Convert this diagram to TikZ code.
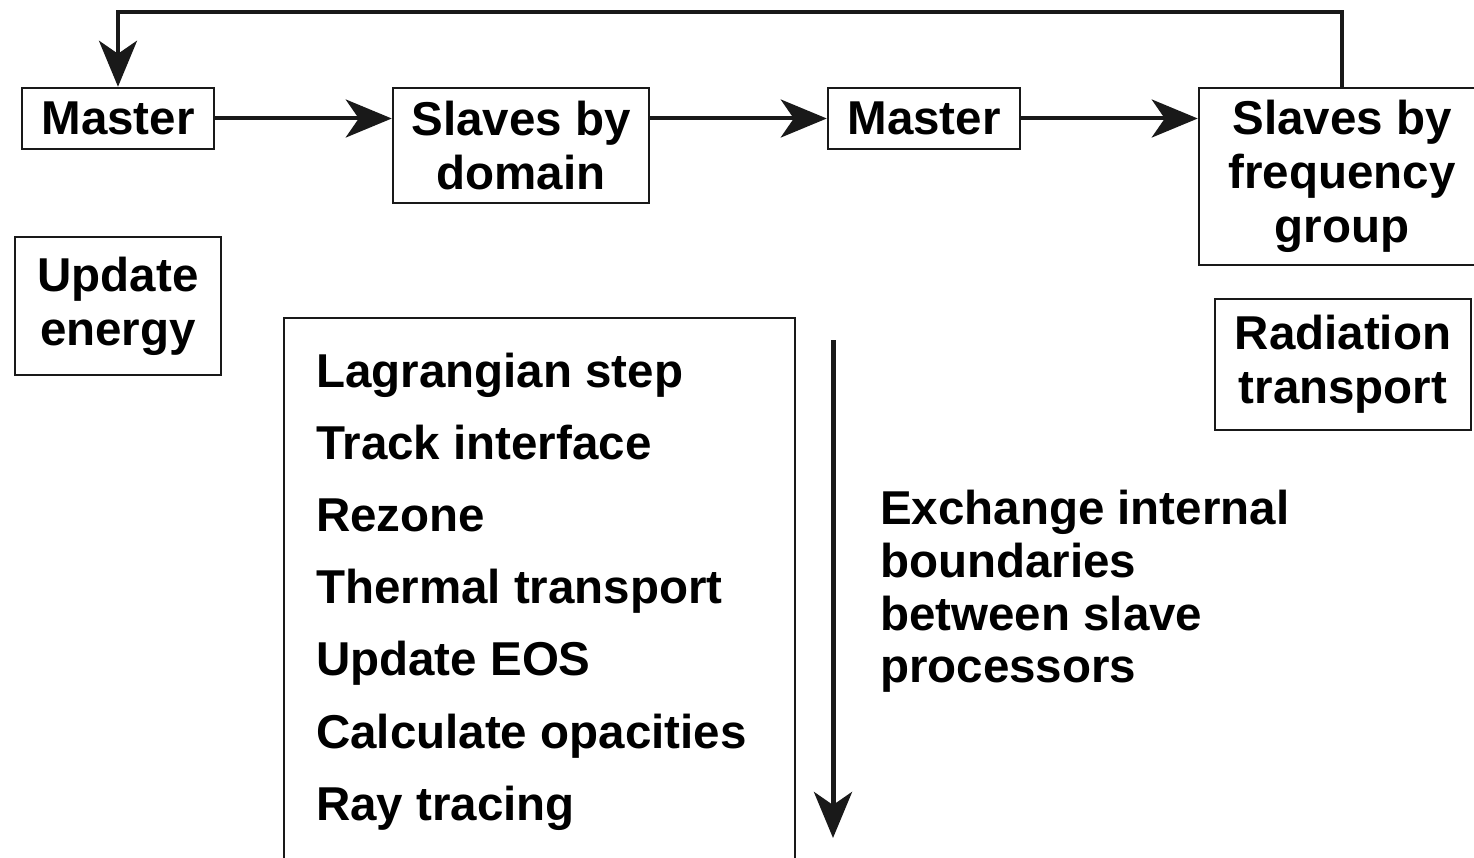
\documentclass[tikz,border=0pt]{standalone}
\usepackage{fontspec}
\setmainfont{Liberation Sans}
\usepackage{tikz}
\usetikzlibrary{arrows.meta, positioning, calc}

\begin{document}
\begin{tikzpicture}[x=1pt, y=-1pt]
    % Define styles
    \tikzstyle{box} = [rectangle, draw=black!90, line width=2.5pt, align=center, inner sep=0pt, font=\fontsize{47.5}{54}\selectfont\bfseries]
    \tikzstyle{flow} = [line width=4pt, draw=black!90, -{Stealth[length=46pt, width=38pt, inset=13pt]}]
    \tikzstyle{steptext} = [anchor=base west, inner sep=0pt, font=\fontsize{47.5}{54}\selectfont\bfseries]

    % Frame
    \useasboundingbox (0,0) rectangle (1474,858);
    \clip (0,0) rectangle (1474,858);

    % Top row
    \node[box, minimum width=192pt, minimum height=61pt] (master1) at (118, 118.5) {Master};
    \node[box, minimum width=256pt, minimum height=115pt] (domain) at (521, 145.5) {Slaves by\\domain};
    \node[box, minimum width=192pt, minimum height=61pt] (master2) at (924, 118.5) {Master};
    \node[box, minimum width=286pt, minimum height=177pt] (freq) at (1342, 176.5) {Slaves by\\frequency\\group};

    % Boxes below
    \node[box, minimum width=206pt, minimum height=138pt] (energy) at (118, 306) {Update\\energy};
    \node[box, minimum width=256pt, minimum height=131pt] (radiation) at (1343, 364.5) {Radiation\\transport};

    % Step list
    \draw[line width=2.5pt, draw=black!90] (284, 880) -- (284, 318) -- (795, 318) -- (795, 880);
    \foreach \txt [count=\i] in {Lagrangian step, Track interface, Rezone, Thermal transport, Update EOS, Calculate opacities, Ray tracing}
        \node[steptext] (step\i) at (316, {387 + 72.2*(\i-1)}) {\txt};

    % Exchange
    \coordinate (xtop) at (833, 340);
    \coordinate (xbot) at (833, 838);
    \draw[flow, line width=5pt] (xtop) -- (xbot);
    \node[anchor=north west, inner sep=0pt, align=left, font=\fontsize{47.5}{52.7}\selectfont\bfseries] (exchange) at (880, 490) {Exchange internal\\boundaries\\between slave\\processors};

    % Connections
    \draw[flow] (master1.east) -- (master1.east -| domain.west);
    \draw[flow] (master1.east -| domain.east) -- (master2.west);
    \draw[flow] (master2.east) -- (master2.east -| freq.west);
    \draw[flow] (freq.north) -- ++(0,-75) -| (master1.north);

\end{tikzpicture}
\end{document}
